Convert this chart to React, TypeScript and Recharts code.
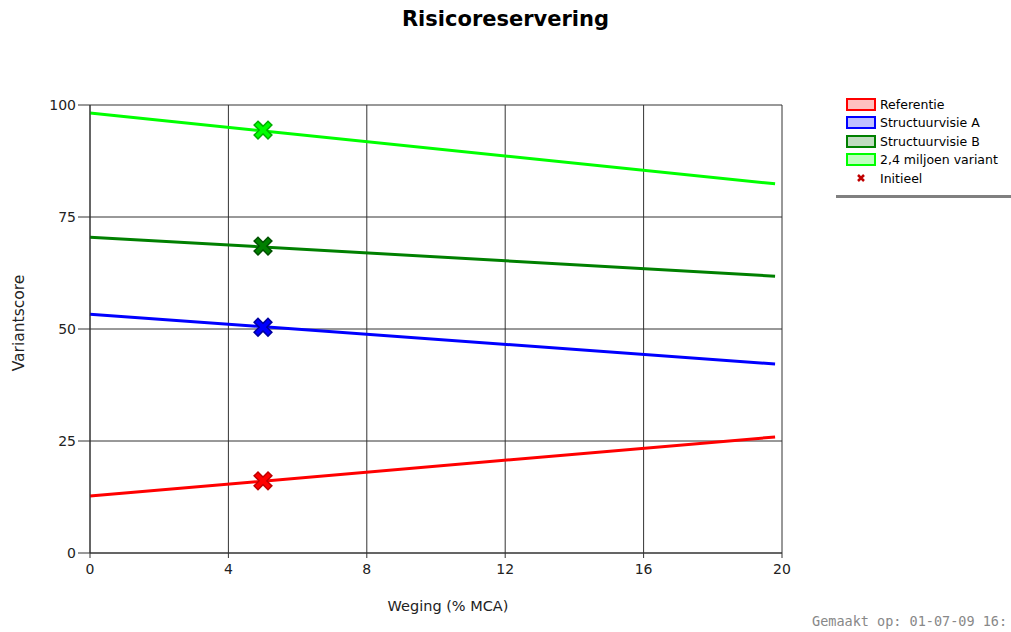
import React from "react";
import {
  ComposedChart,
  Line,
  Scatter,
  XAxis,
  YAxis,
  CartesianGrid,
  Label,
} from "recharts";

// weging (% MCA) at start and end of each line
const referentie = [
  { x: 0, y: 12.7 },
  { x: 19.8, y: 25.9 },
];
const structuurvisieA = [
  { x: 0, y: 53.3 },
  { x: 19.8, y: 42.2 },
];
const structuurvisieB = [
  { x: 0, y: 70.5 },
  { x: 19.8, y: 61.8 },
];
const miljoenVariant = [
  { x: 0, y: 98.2 },
  { x: 19.8, y: 82.4 },
];

// initial values at weging 5
const initieelRef = [{ x: 5, y: 16.1 }];
const initieelA = [{ x: 5, y: 50.4 }];
const initieelB = [{ x: 5, y: 68.5 }];
const initieelMiljoen = [{ x: 5, y: 94.4 }];

const xTicks = [0, 4, 8, 12, 16, 20];
const yTicks = [0, 25, 50, 75, 100];

const series = [
  { name: "Referentie", data: referentie, init: initieelRef, color: "#ff0000", light: "#ffc0c0", dark: "#c00000" },
  { name: "Structuurvisie A", data: structuurvisieA, init: initieelA, color: "#0000ff", light: "#c0c0ff", dark: "#0000a0" },
  { name: "Structuurvisie B", data: structuurvisieB, init: initieelB, color: "#008000", light: "#c0dcc0", dark: "#005000" },
  { name: "2,4 miljoen variant", data: miljoenVariant, init: initieelMiljoen, color: "#00ff00", light: "#c0ffc0", dark: "#00b000" },
];

const font = "'DejaVu Sans', Verdana, sans-serif";

function cross(color: string, dark: string) {
  return (props: any) => {
    const { cx, cy } = props;
    const s = 5;
    const d = `M${cx - s},${cy - s}L${cx + s},${cy + s}M${cx + s},${cy - s}L${cx - s},${cy + s}`;
    return (
      <g>
        <path d={d} stroke={dark} strokeWidth={7} strokeLinecap="square" />
        <path d={d} stroke={color} strokeWidth={4} strokeLinecap="square" />
      </g>
    );
  };
}

function ChartLegend() {
  return (
    <div style={{ position: "absolute", left: 846, top: 95, fontFamily: font, fontSize: 12.5, color: "#000" }}>
      {series.map((s) => (
        <div key={s.name} style={{ display: "flex", alignItems: "center", height: 18.5 }}>
          <div
            style={{
              width: 26,
              height: 9,
              border: `2px solid ${s.color}`,
              background: s.light,
              marginRight: 4,
            }}
          />
          <span>{s.name}</span>
        </div>
      ))}
      <div style={{ display: "flex", alignItems: "center", height: 18.5 }}>
        <div style={{ width: 30, marginRight: 4, textAlign: "center" }}>
          <svg width={10} height={10}>
            <path d="M2,2L8,8M8,2L2,8" stroke="#c00000" strokeWidth={2.5} />
          </svg>
        </div>
        <span>Initieel</span>
      </div>
    </div>
  );
}

export default function App() {
  return (
    <div
      style={{
        position: "absolute",
        left: 0,
        top: 0,
        width: 1011,
        height: 632,
        overflow: "hidden",
        background: "#fff",
      }}
    >
      <div
        style={{
          position: "absolute",
          left: 0,
          width: 1011,
          top: 7,
          textAlign: "center",
          fontFamily: font,
          fontWeight: "bold",
          fontSize: 21,
        }}
      >
        Risicoreservering
      </div>
      <ComposedChart
        width={1011}
        height={632}
        margin={{ top: 105, right: 229, bottom: 19, left: 10 }}
        style={{ position: "absolute", left: 0, top: 0 }}
      >
        <CartesianGrid stroke="#333" strokeWidth={1} />
        <XAxis
          type="number"
          dataKey="x"
          domain={[0, 20]}
          ticks={xTicks}
          height={60}
          tickSize={5}
          tickMargin={6}
          stroke="#333"
          tick={{ fill: "#222", fontFamily: font, fontSize: 14 }}
        >
          <Label
            value="Weging (% MCA)"
            position="insideBottom"
            offset={2}
            dx={12}
            style={{ fill: "#222", fontFamily: font, fontSize: 14.5 }}
          />
        </XAxis>
        <YAxis
          type="number"
          domain={[0, 100]}
          ticks={yTicks}
          width={80}
          tickSize={12}
          tickMargin={2}
          stroke="#333"
          tick={{ fill: "#222", fontFamily: font, fontSize: 14 }}
        >
          <Label
            value="Variantscore"
            angle={-90}
            position="insideLeft"
            offset={8}
            dy={-6}
            style={{ fill: "#222", fontFamily: font, fontSize: 15.5, textAnchor: "middle" }}
          />
        </YAxis>
        {series.map((s) => (
          <Line
            key={s.name}
            data={s.data}
            dataKey="y"
            stroke={s.color}
            strokeWidth={3}
            dot={false}
            activeDot={false}
            isAnimationActive={false}
          />
        ))}
        {series.map((s) => (
          <Scatter
            key={s.name + "-init"}
            data={s.init}
            dataKey="y"
            shape={cross(s.color, s.dark)}
            isAnimationActive={false}
          />
        ))}
      </ComposedChart>
      <ChartLegend />
      <div
        style={{
          position: "absolute",
          left: 836,
          top: 195,
          width: 175,
          height: 3,
          background: "#808080",
        }}
      />
      <div
        style={{
          position: "absolute",
          left: 812,
          top: 613,
          whiteSpace: "nowrap",
          fontFamily: "'DejaVu Sans Mono', monospace",
          fontSize: 13.5,
          color: "#888",
        }}
      >
        Gemaakt op: 01-07-09 16:
      </div>
    </div>
  );
}
